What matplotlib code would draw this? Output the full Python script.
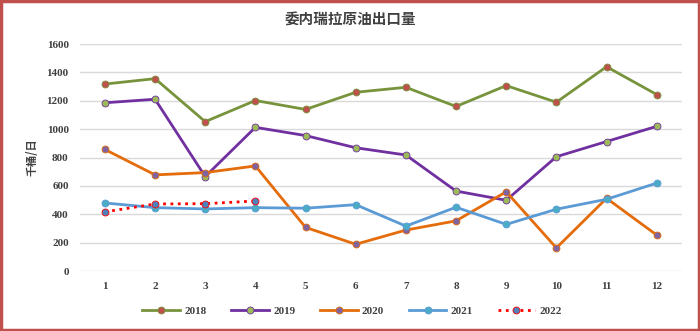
import matplotlib
matplotlib.use("Agg")
import matplotlib.pyplot as plt
from matplotlib.patches import Rectangle

plt.rcParams['font.family'] = ['Noto Sans CJK SC', 'DejaVu Sans']

months = [str(i) for i in range(1, 13)]
y2018 = [1318, 1356, 1053, 1202, 1139, 1260, 1295, 1160, 1307, 1190, 1440, 1244]
y2019 = [1186, 1211, 666, 1013, 955, 869, 818, 564, 499, 806, 913, 1020]
y2020 = [857, 678, 694, 741, 308, 189, 289, 354, 559, 163, 513, 254]
y2021 = [480, 447, 438, 447, 443, 468, 317, 450, 329, 436, 506, 620]
y2022 = [417, 473, 475, 494]
labels = ['2018', '2019', '2020', '2021', '2022']
yticks = [0, 200, 400, 600, 800, 1000, 1200, 1400, 1600]

num_font = ['Liberation Serif', 'DejaVu Serif']

fig = plt.figure(figsize=(7.0, 3.31), dpi=100)
ax = fig.add_axes([0.114, 0.181, 0.86, 0.686])

x = list(range(1, 13))
styles = [
    (y2018, '#77933C', '#C0504D', '-'),
    (y2019, '#7030A0', '#9BBB59', '-'),
    (y2020, '#E46C0A', '#8064A2', '-'),
    (y2021, '#5B9BD5', '#4BACC6', '-'),
    (y2022, '#FF0000', '#4F81BD', ':'),
]
for (vals, lc, mc, ls), lab in zip(styles, labels):
    ax.plot(x[:len(vals)], vals, color=lc, lw=2.0, ls=ls, marker='o',
            markersize=5, markerfacecolor=mc, markeredgecolor=lc,
            markeredgewidth=0.6, label=lab, zorder=3)

ax.set_xlim(0.5, 12.5)
ax.set_ylim(0, 1600)
ax.set_yticks(yticks)
ax.set_xticks(x)
ax.set_xticklabels(months)
ax.grid(axis='y', color='#D9D9D9', lw=1)
ax.set_axisbelow(True)
for s in ax.spines.values():
    s.set_visible(False)
ax.tick_params(length=0, labelsize=8, labelcolor='#404040', pad=8)
for t in ax.get_xticklabels() + ax.get_yticklabels():
    t.set_fontweight('bold')
    t.set_family(num_font)
ax.set_ylabel('千桶/日', fontsize=8, color='#404040', fontweight='bold', labelpad=6)

fig.text(0.5, 0.94, '委内瑞拉原油出口量', ha='center', va='center',
         fontsize=10.5, fontweight='bold', color='#404040')

leg = fig.legend(loc='center', bbox_to_anchor=(0.503, 0.06), ncol=5, frameon=False,
                 prop={'size': 8, 'weight': 'bold', 'family': num_font},
                 handlelength=3.4, columnspacing=2.2, handletextpad=0.4)
for t in leg.get_texts():
    t.set_color('#404040')

fig.patches.append(Rectangle((0.002, 0.003), 0.996, 0.994, transform=fig.transFigure,
                             fill=False, edgecolor='#C0504D', lw=2.5))

fig.savefig('out.png', dpi=100)
